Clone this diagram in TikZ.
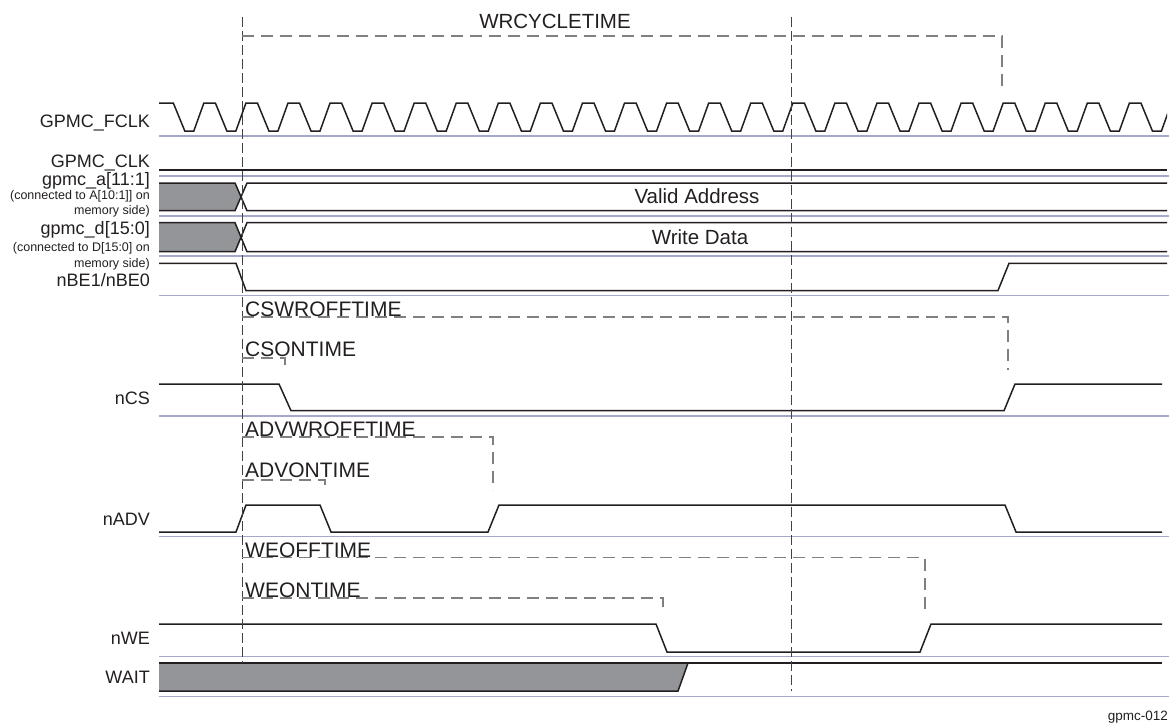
\documentclass[tikz,border=0pt]{standalone}
\usepackage{fontspec}
\setmainfont{Liberation Sans}
\definecolor{basecol}{RGB}{165,168,200}
\definecolor{fillg}{RGB}{148,149,153}
\definecolor{inkc}{RGB}{35,31,32}
\begin{document}
\begin{tikzpicture}[x=1pt,y=-1pt,
  sig/.style={line width=1.5pt, draw=inkc, line join=miter},
  baseln/.style={line width=1.6pt, draw=basecol},
  refln/.style={line width=1pt, draw=inkc!85, dash pattern=on 10pt off 4pt},
  timln/.style={line width=1.3pt, draw=black!50, dash pattern=on 12pt off 7pt},
  lbl/.style={font=\fontsize{18}{18}\selectfont, anchor=base east, inner sep=0pt, text=inkc},
  smalllbl/.style={font=\fontsize{12.5}{13}\selectfont, anchor=base east, inner sep=0pt, text=inkc},
  tlbl/.style={font=\fontsize{21}{21}\selectfont, anchor=base west, inner sep=0pt, text=inkc},
  buslbl/.style={font=\fontsize{20.5}{21}\selectfont, anchor=base, inner sep=0pt, text=inkc}]
\useasboundingbox (0,0) rectangle (1169,725);

% baselines
\foreach \yy in {136,176,216,256,295.5,416,536.5,656.5,696.5}
  \draw[baseln] (159,\yy) -- (1169,\yy);

% clock
\begin{scope}
\clip (159,95) rectangle (1167,140);
\draw[sig] (150,103) -- (173.3,103)
  \foreach \k in {0,...,23} {
    -- ({173.3+42.07*\k+11.5},131) -- ({173.3+42.07*\k+20.5},131)
    -- ({173.3+42.07*\k+30.57},103) -- ({173.3+42.07*\k+42.07},103)
  };
\end{scope}

% GPMC_CLK
\draw[sig] (159,170) -- (1167,170);

% gpmc_a
\fill[fillg] (159,183) -- (235,183) -- (241,196.85) -- (235,210.7) -- (159,210.7) -- cycle;
\draw[sig] (1167,183) -- (247,183) -- (235,210.7) -- (159,210.7);
\draw[sig] (1167,210.7) -- (247,210.7) -- (235,183) -- (159,183);

% gpmc_d
\fill[fillg] (159,222.7) -- (235,222.7) -- (241,237.2) -- (235,251.7) -- (159,251.7) -- cycle;
\draw[sig] (1167,222.7) -- (247,222.7) -- (235,251.7) -- (159,251.7);
\draw[sig] (1167,251.7) -- (247,251.7) -- (235,222.7) -- (159,222.7);

% nBE
\draw[sig] (159,263.3) -- (236,263.3) -- (246,290.5) -- (998,290.5) -- (1009,263.3) -- (1167,263.3);

% nCS
\draw[sig] (159,384) -- (279,384) -- (291,410.7) -- (1004,410.7) -- (1015,384) -- (1162,384);

% nADV
\draw[sig] (159,532) -- (236,532) -- (246,505) -- (320,505) -- (331,532) -- (488,532) -- (499,505) -- (1005,505) -- (1016,532) -- (1162,532);

% nWE
\draw[sig] (159,624) -- (656,624) -- (667,652) -- (920,652) -- (931,624) -- (1162,624);

% WAIT
\fill[fillg] (159,663) -- (688,663) -- (678,691) -- (159,691) -- cycle;
\draw[sig] (159,663) -- (1162,663);
\draw[sig] (159,691) -- (678,691) -- (688,663);

% reference verticals
\draw[refln] (242,17) -- (242,663);
\draw[refln] (791.5,17) -- (791.5,691);

% timing brackets
\draw[timln] (242,36) -- (1002,36) -- (1002,88);
\draw[timln] (242,317) -- (1008,317) -- (1008,370);
\draw[timln] (242,358) -- (285,358) -- (285,368);
\draw[timln] (242,437) -- (493,437) -- (493,490);
\draw[timln] (242,480) -- (325,480) -- (325,487);
\draw[timln] (242,557.5) -- (925,557.5) -- (925,609);
\draw[timln] (242,598) -- (663,598) -- (663,612);

% signal labels
\node[lbl] (lfclk) at (150,127) {GPMC\_FCLK};
\node[lbl] (lclk) at (150,167) {GPMC\_CLK};
\node[lbl] (la) at (150,185.5) {gpmc\_a[11:1]};
\node[smalllbl] (la2) at (150,199.5) {(connected to A[10:1]] on};
\node[smalllbl] (la3) at (150,214) {memory side)};
\node[lbl] (ld) at (150,234) {gpmc\_d[15:0]};
\node[smalllbl] (ld2) at (150,251) {(connected to D[15:0] on};
\node[smalllbl] (ld3) at (150,267.5) {memory side)};
\node[lbl] (lbe) at (150,286) {nBE1/nBE0};
\node[lbl] (lcs) at (150,404.5) {nCS};
\node[lbl] (ladv) at (150,525.5) {nADV};
\node[lbl] (lwe) at (150,644.5) {nWE};
\node[lbl] (lwait) at (150,683.5) {WAIT};

% bus labels
\node[buslbl] (va) at (697,203.5) {Valid Address};
\node[buslbl] (wd) at (700,244.5) {Write Data};

% timing labels
\node[buslbl] (twr) at (555,29) {WRCYCLETIME};
\node[tlbl] (tcsoff) at (245,316) {CSWROFFTIME};
\node[tlbl] (tcson) at (245,356) {CSONTIME};
\node[tlbl] (tadvoff) at (245,436) {ADVWROFFTIME};
\node[tlbl] (tadvon) at (245,477) {ADVONTIME};
\node[tlbl] (tweoff) at (245,557) {WEOFFTIME};
\node[tlbl] (tweon) at (245,597) {WEONTIME};

\node[anchor=base east, inner sep=0pt, font=\fontsize{13.5}{14}\selectfont, text=inkc] (fig) at (1168,720) {gpmc-012};
\end{tikzpicture}
\end{document}
